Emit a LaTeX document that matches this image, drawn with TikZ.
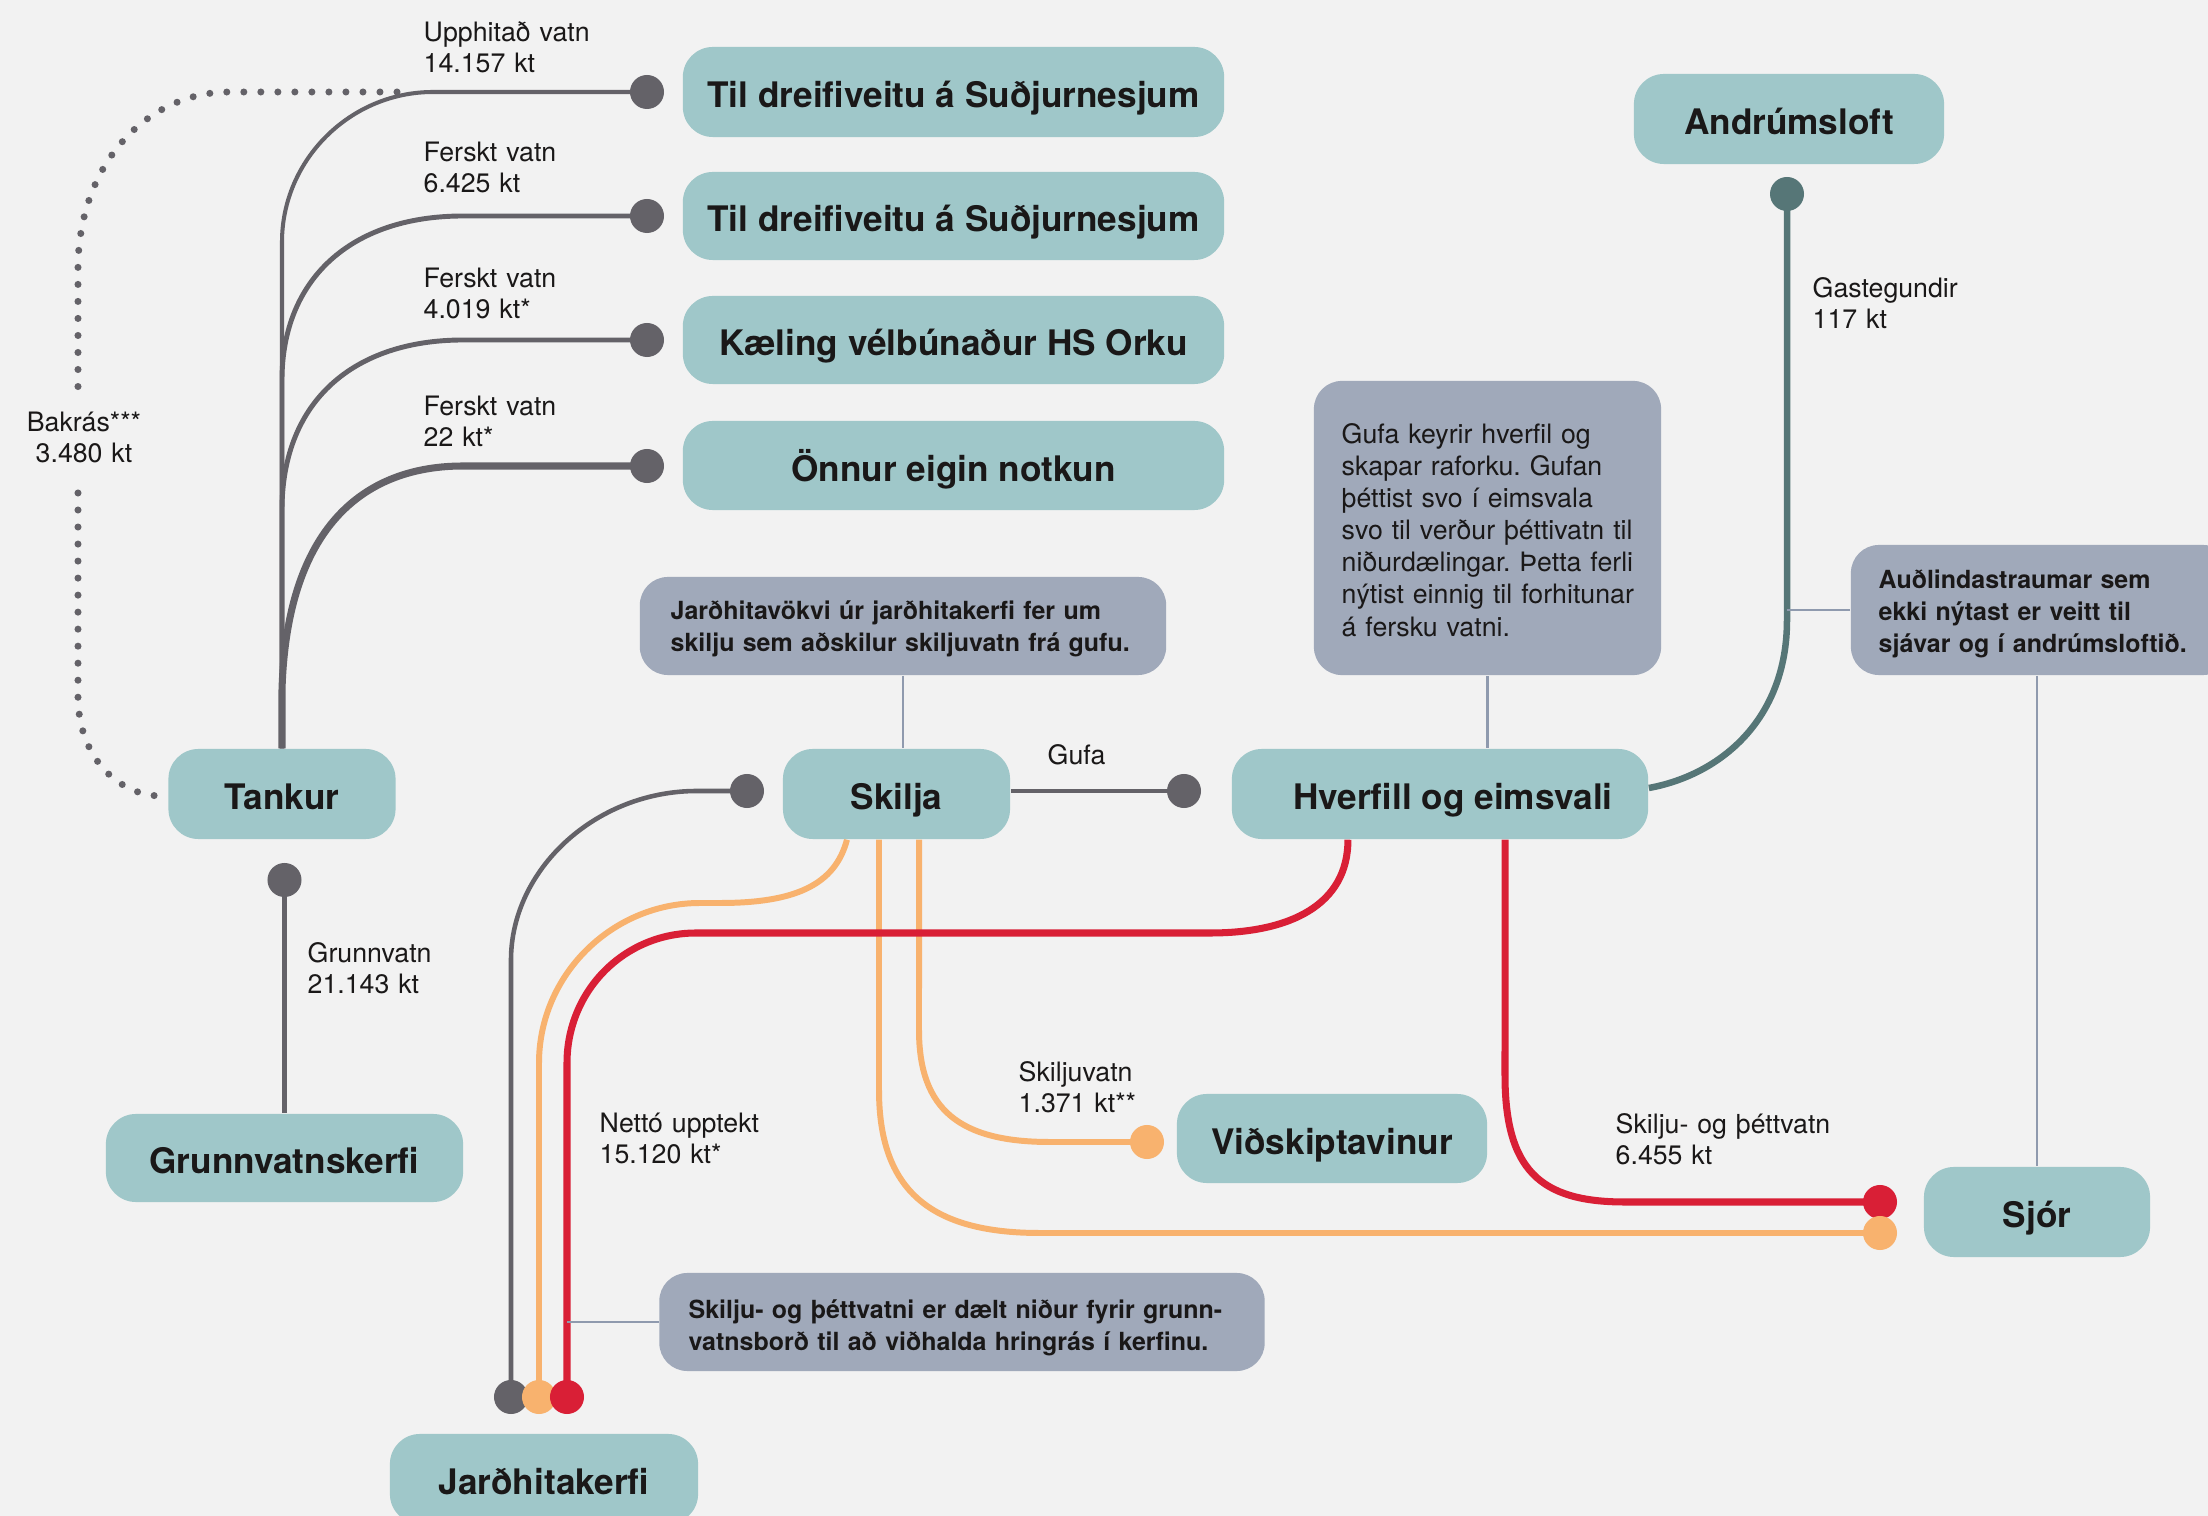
\documentclass[tikz,border=0pt]{standalone}
\usepackage{fontspec}
\setmainfont{TeX Gyre Heros}
\usetikzlibrary{calc}
\frenchspacing
\definecolor{cBg}{HTML}{F2F2F2}
\definecolor{cTeal}{HTML}{9FC7C9}
\definecolor{cCall}{HTML}{A0A9BA}
\definecolor{cGrey}{HTML}{646268}
\definecolor{cDTeal}{HTML}{567677}
\definecolor{cRed}{HTML}{D91F36}
\definecolor{cOrange}{HTML}{F8B26E}
\definecolor{cLead}{HTML}{8F9AAE}
\definecolor{cTxt}{HTML}{1A1818}
\pgfdeclarelayer{back}
\pgfdeclarelayer{lines}
\pgfsetlayers{back,lines,main}
\tikzset{
  box/.style={fill=cTeal, rounded corners=0.3cm, inner sep=0pt, text=cTxt,
    font=\fontsize{10}{12}\selectfont\bfseries, text height=9pt, text depth=0pt},
  callbox/.style={fill=cCall, rounded corners=0.28cm, inner sep=0pt},
  calltxt/.style={anchor=base west, inner sep=0pt, text width=9cm, align=left, text=cTxt,
    font=\fontsize{7.1}{9.1}\selectfont\bfseries},
  lbl/.style={anchor=base west, inner sep=0pt, text width=4cm, align=left, text=cTxt,
    font=\fontsize{7.6}{8.8}\selectfont},
  dotn/.style={circle, inner sep=0pt, minimum size=0.34cm},
  flow/.style={line cap=butt, line join=round},
  leader/.style={draw=cLead, line width=0.6pt},
  dotted line/.style={cGrey, line width=2pt, line cap=round, dash pattern=on 0pt off 4.84pt},
}
\begin{document}
\begin{tikzpicture}[x=0.01cm,y=-0.01cm]
\useasboundingbox (0,0) rectangle (2208,1516);
\begin{pgfonlayer}{back}
\fill[cBg] (0,0) rectangle (2208,1516);
\end{pgfonlayer}

% ---------- boxes ----------
\node[box, minimum width=5.41cm, minimum height=0.90cm] (til1) at (953.5,92) {Til dreifiveitu á Suðjurnesjum};
\node[box, minimum width=5.41cm, minimum height=0.88cm] (til2) at (953.5,216) {Til dreifiveitu á Suðjurnesjum};
\node[box, minimum width=5.41cm, minimum height=0.88cm] (kael) at (953.5,340) {Kæling vélbúnaður HS Orku};
\node[box, minimum width=5.41cm, minimum height=0.89cm] (onnur) at (953.5,465.5) {Önnur eigin notkun};
\node[box, minimum width=3.10cm, minimum height=0.90cm] (andr) at (1789,119) {Andrúmsloft};
\node[box, minimum width=2.27cm, minimum height=0.90cm] (tank) at (282,794) {Tankur};
\node[box, minimum width=3.57cm, minimum height=0.88cm] (grunn) at (284.5,1158) {Grunnvatnskerfi};
\node[box, minimum width=2.27cm, minimum height=0.90cm] (skilja) at (896.5,794) {Skilja};
\node[box, minimum width=4.16cm, minimum height=0.90cm] (hverf) at (1440,794) {\hspace*{0.26cm}Hverfill og eimsvali};
\node[box, minimum width=3.10cm, minimum height=0.89cm] (vids) at (1332,1138.5) {Viðskiptavinur};
\node[box, minimum width=2.26cm, minimum height=0.90cm] (sjor) at (2037,1212) {Sjór};
\node[box, minimum width=3.08cm, minimum height=0.90cm] (jard) at (544,1479) {Jarðhitakerfi};

% ---------- callouts ----------
\node[callbox, minimum width=5.26cm, minimum height=0.98cm] (cJ) at (903,626) {};
\node[calltxt] (cJt) at (670,620) {Jarðhitavökvi úr jarðhitakerfi fer um\\skilju sem aðskilur skiljuvatn frá gufu.};
\node[callbox, minimum width=3.47cm, minimum height=2.94cm] (cG) at (1487.5,528) {};
\node[calltxt, font=\fontsize{7.6}{9.1}\selectfont] (cGt) at (1341,444) {Gufa keyrir hverfil og\\skapar raforku. Gufan\\þéttist svo í eimsvala\\svo til verður þéttivatn til\\niðurdælingar. Þetta ferli\\nýtist einnig til forhitunar\\á fersku vatni.};
\node[callbox, minimum width=3.80cm, minimum height=1.30cm] (cA) at (2041,610) {};
\node[calltxt] (cAt) at (1878,589) {Auðlindastraumar sem\\ekki nýtast er veitt til\\sjávar og í andrúmsloftið.};
\node[callbox, minimum width=6.05cm, minimum height=0.98cm] (cS) at (962,1322) {};
\node[calltxt] (cSt) at (688,1318) {Skilju- og þéttvatni er dælt niður fyrir grunn-\\vatnsborð til að viðhalda hringrás í kerfinu.};

% ---------- labels ----------
\node[lbl] (l1) at (423,42) {Upphitað vatn\\14.157 kt};
\node[lbl] (l2) at (423,162) {Ferskt vatn\\6.425 kt};
\node[lbl] (l3) at (423,288) {Ferskt vatn\\4.019 kt*};
\node[lbl] (l4) at (423,416) {Ferskt vatn\\22 kt*};
\node[lbl, anchor=base, align=center, text width=1.6cm] (lBak) at (84,432) {Bakrás***\\3.480 kt};
\node[lbl] (lGas) at (1812,298) {Gastegundir\\117 kt};
\node[lbl] (lGr) at (307,963) {Grunnvatn\\21.143 kt};
\node[lbl] (lGufa) at (1047,765) {Gufa};
\node[lbl] (lSk) at (1018,1082) {Skiljuvatn\\1.371 kt**};
\node[lbl] (lNet) at (599,1133) {Nettó upptekt\\15.120 kt*};
\node[lbl] (lSt) at (1615,1134) {Skilju- og þéttvatn\\6.455 kt};

% ---------- dots ----------
\node[dotn, fill=cGrey] (d1) at (647,92) {};
\node[dotn, fill=cGrey] (d2) at (647,216) {};
\node[dotn, fill=cGrey] (d3) at (647,340) {};
\node[dotn, fill=cGrey] (d4) at (647,466) {};
\node[dotn, fill=cDTeal] (dA) at (1787,194) {};
\node[dotn, fill=cGrey] (dT) at (284.5,880) {};
\node[dotn, fill=cGrey] (dS) at (747,791) {};
\node[dotn, fill=cGrey] (dG) at (1184,791) {};
\node[dotn, fill=cGrey] (dJg) at (511,1397) {};
\node[dotn, fill=cOrange] (dJo) at (539,1397) {};
\node[dotn, fill=cRed] (dJr) at (567,1397) {};
\node[dotn, fill=cOrange] (dV) at (1147,1142) {};
\node[dotn, fill=cRed] (dSr) at (1880,1202) {};
\node[dotn, fill=cOrange] (dSo) at (1880,1233) {};
\coordinate (bakStart) at (397,92);
\coordinate (bakEnd) at (160,796);

% ---------- connectors ----------
\begin{pgfonlayer}{lines}
% to tank
\draw[flow, cGrey, line width=1.15pt] (d1.center) -- (433,92) .. controls (350,92) and (282,160) .. (282,242) -- (tank.north);
\draw[flow, cGrey, line width=1.4pt] (d2.center) -- (463,216) .. controls (350,216) and (282,280) .. (282,380) -- (tank.north);
\draw[flow, cGrey, line width=1.4pt] (d3.center) -- (463,340) .. controls (355,340) and (282,400) .. (282,510) -- (tank.north);
\draw[flow, cGrey, line width=2pt] (d4.center) -- (463,466) .. controls (370,466) and (287,520) .. (282,690) -- (tank.north);
% Bakras
\draw[dotted line] (bakStart) -- (229,92) .. controls (150,92) and (80,160) .. (78,265) -- (78,392);
\draw[dotted line] (78,493) -- (78,700) .. controls (80,760) and (120,795) .. (bakEnd);
% grunnvatn
\draw[flow, cGrey, line width=1.15pt] (dT.center) -- (grunn.north);
% gufa
\draw[flow, cGrey, line width=1.4pt] (skilja.east |- dG) -- (dG.center);
% grey to jardhitakerfi
\draw[flow, cGrey, line width=1.3pt] (dS.center) -- (697,791) .. controls (595,791) and (511,870) .. (511,960) -- (dJg.center);
% orange
\draw[flow, cOrange, line width=1.7pt] ([xshift=-0.495cm]skilja.south) .. controls (835,885) and (795,903) .. (720,903) -- (700,903) .. controls (612,903) and (539,975) .. (539,1063) -- (dJo.center);
\draw[flow, cOrange, line width=1.7pt] ([xshift=-0.175cm]skilja.south) -- (879,1090) .. controls (879,1190) and (930,1233) .. (1040,1233) -- (dSo.center);
\draw[flow, cOrange, line width=1.7pt] ([xshift=0.225cm]skilja.south) -- (919,1030) .. controls (919,1110) and (960,1142) .. (1050,1142) -- (dV.center);
% red
\draw[flow, cRed, line width=2pt] ([xshift=-0.92cm]hverf.south) .. controls (1348,905) and (1290,933) .. (1210,933) -- (696,933) .. controls (624,933) and (567,991) .. (567,1063) -- (dJr.center);
\draw[flow, cRed, line width=2pt] ([xshift=0.65cm]hverf.south) -- (1505,1075) .. controls (1505,1170) and (1540,1202) .. (1625,1202) -- (dSr.center);
% atmosphere
\draw[flow, cDTeal, line width=1.85pt] (dA.center) -- (1787,620) .. controls (1787,720) and (1720,775) .. ([yshift=0.06cm]hverf.east);
% leaders
\draw[leader] (cJ.south) -- (cJ.south |- skilja.north);
\draw[leader] (cG.south) -- (cG.south |- hverf.north);
\draw[leader] (cA.west) -- (cA.west -| dA);
\draw[leader] (sjor.north |- cA.south) -- (sjor.north);
\draw[leader] (cS.west) -- (cS.west -| dJr);
\end{pgfonlayer}
\end{tikzpicture}
\end{document}
